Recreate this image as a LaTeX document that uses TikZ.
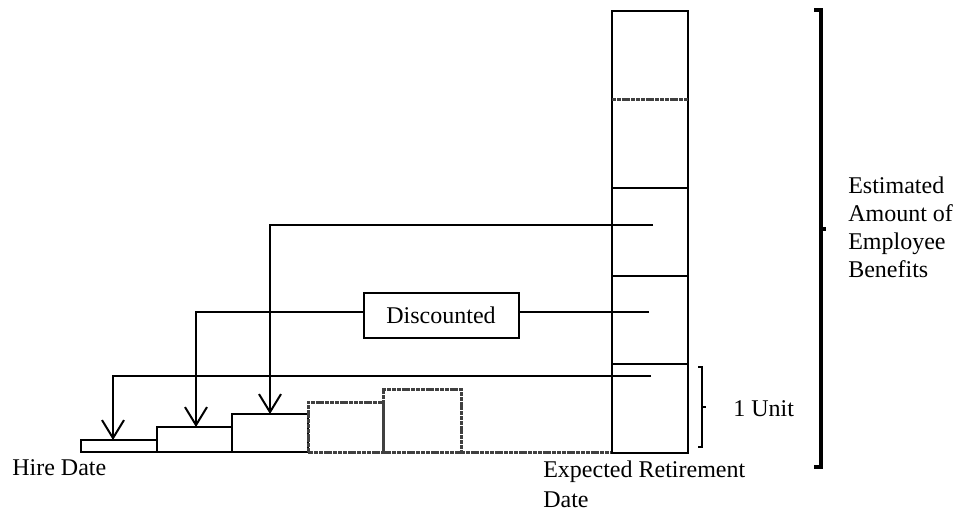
\documentclass[tikz,border=0pt]{standalone}
\usepackage{fontspec}
\setmainfont{Liberation Serif}
\usetikzlibrary{arrows.meta}

\tikzset{
	hatch/.style={line width=1.5pt,draw=black!75,dash pattern=on 2pt off 0.4pt},
	discount/.style={-{Straight Barb[length=9pt,width=11pt,line width=1pt]}},
	lbl/.style={font=\fontsize{12}{13.9}\selectfont,inner sep=0pt,align=left}
}

\begin{document}
\begin{tikzpicture}[x=0.5pt,y=-0.5pt,line width=1.3pt]
	\useasboundingbox (0,0) rectangle (959,510);

	% steps from hire date
	\draw (81,452) rectangle (157,440);
	\draw (157,452) rectangle (232,427);
	\draw (232,452) rectangle (308,414);
	\draw[hatch] (308,452) rectangle (383,402);
	\draw[hatch] (383,452) rectangle (461,389);
	\draw[hatch] (461,452) -- (612,452);

	% column at retirement
	\draw[line width=1.1pt] (612,453) rectangle (688,11);
	\foreach \y in {188,276,364}
		\draw[line width=1.1pt] (612,\y) -- (688,\y);
	\draw[hatch] (612,99) -- (688,99);

	% corners and tips
	\coordinate (u1) at (651,376);
	\coordinate (u2) at (649,312);
	\coordinate (u3) at (653,225);
	\coordinate (c1) at (113,376);
	\coordinate (c2) at (196,312);
	\coordinate (c3) at (270,225);
	\coordinate (s1) at (113,440);
	\coordinate (s2) at (196,427);
	\coordinate (s3) at (270,414);

	\node (disc) at (441,315.5) [draw,line width=1pt,minimum width=77.5pt,
		minimum height=22.5pt,font=\fontsize{12}{13.9}\selectfont]{Discounted};

	\draw[discount] (u1) -- (c1) -- (s1);
	\draw (u2) -- (u2 -| disc.east);
	\draw[discount] (c2 -| disc.west) -- (c2) -- (s2);
	\draw[discount] (u3) -- (c3) -- (s3);

	% braces
	\draw[line width=0.8pt] (698,367) -- (702,367) -- (702,447) -- (698,447);
	\draw[line width=0.8pt] (702,407) -- (706,407);
	\draw[line width=1.6pt] (814,10) -- (821,10) -- (821,467) -- (814,467);
	\draw[line width=1.6pt] (821,229) -- (826,229);

	% labels
	\node (unit) at (732,416) [lbl,anchor=base west]{1 Unit};
	\node (benefits) at (847,277) [lbl,anchor=base west,
		font=\fontsize{12}{13.9}\selectfont]{Estimated\\Amount of\\Employee\\Benefits};
	\node (hire) at (11,475) [lbl,anchor=base west]{Hire Date};
	\node (retire) at (542,507) [lbl,anchor=base west,
		font=\fontsize{12}{15}\selectfont]{Expected Retirement\\Date};
\end{tikzpicture}
\end{document}
